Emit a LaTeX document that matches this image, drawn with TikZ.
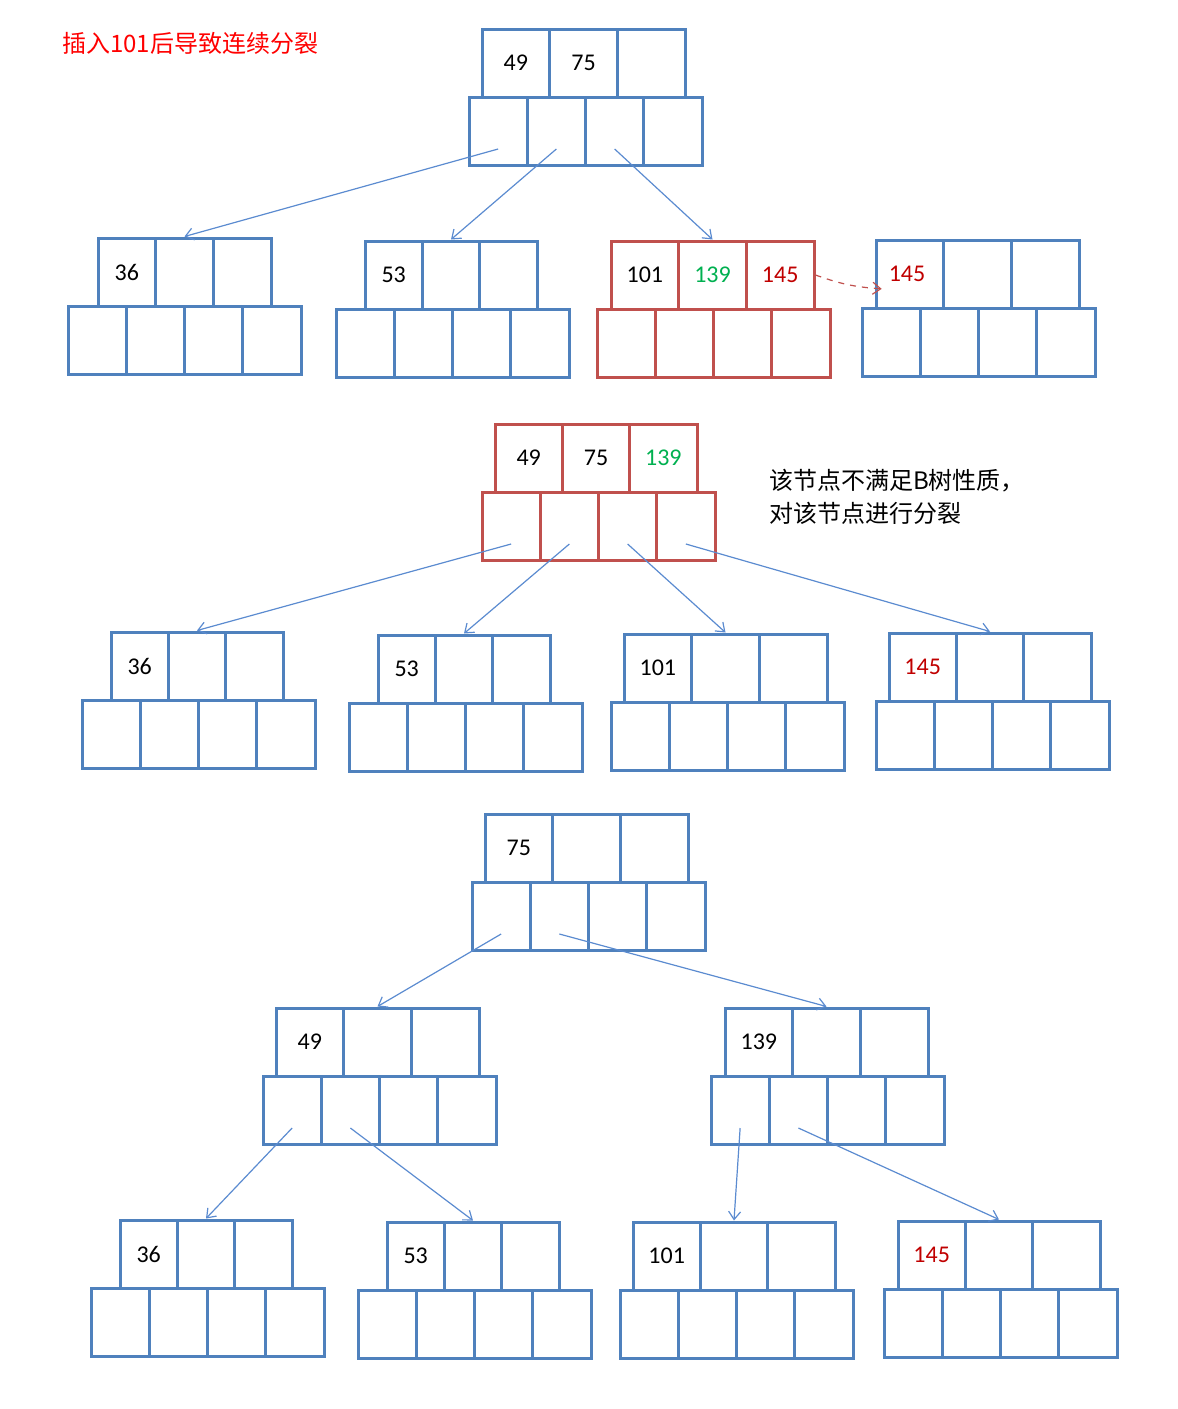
\documentclass[tikz,border=0pt]{standalone}
\usepackage{fontspec}
\setmainfont{Carlito}
\newfontfamily\cjk{Noto Sans CJK SC}
\usetikzlibrary{arrows.meta,calc}
\definecolor{boxblue}{RGB}{79,129,189}
\definecolor{boxred}{RGB}{192,80,77}
\definecolor{keygreen}{RGB}{0,176,80}
\definecolor{keyred}{RGB}{192,0,0}
\definecolor{titlered}{RGB}{255,0,0}
\definecolor{linkblue}{RGB}{91,139,208}

\tikzset{
  cell/.style={rectangle, inner sep=0pt, line width=1.5pt, font=\fontsize{12}{14}\selectfont},
  link/.style={draw=linkblue, line width=0.6pt, -{Straight Barb[length=4pt,width=6pt]}},
  from/.style={yshift=-9pt}
}

% node: name, top x, top width, bottom x, top y, colour, keys
\newcommand{\bnode}[9]{%
  \pgfmathsetmacro\tcw{#3/3}
  \foreach \i/\k in {1/#7,2/#8,3/#9} {
    \node[cell, draw=#6, minimum width=\tcw*0.5pt, minimum height=34pt]
      (#1-t\i) at ({#2+(\i-0.5)*\tcw},{#5+34}) {\k};
  }
  \foreach \i in {1,...,4} {
    \node[cell, draw=#6, minimum width=29.125pt, minimum height=34pt]
      (#1-b\i) at ({#4+(\i-0.5)*58.25},{#5+102}) {};
  }
}

\begin{document}
\begin{tikzpicture}[x=0.5pt, y=-0.5pt]
    \useasboundingbox (0,0) rectangle (1178,1409);

    % Title and note
    \node[anchor=west, text=titlered, font=\cjk\fontsize{12}{14}\selectfont] (title) at (55,43) {插入101后导致连续分裂};
    \node[anchor=north west, align=left, font=\cjk\fontsize{12}{16.5}\selectfont] (note) at (762,462) {该节点不满足B树性质，\\对该节点进行分裂};

    % Before split
    \bnode{rootA}{482}{203}{469}{29}{boxblue}{49}{75}{}
    \bnode{leafA}{98}{173}{68}{238}{boxblue}{36}{}{}
    \bnode{leafB}{365}{172}{336}{241}{boxblue}{53}{}{}
    \bnode{leafC}{611}{203}{597}{241}{boxred}{101}{\textcolor{keygreen}{139}}{\textcolor{keyred}{145}}
    \bnode{leafD}{876}{203}{862}{240}{boxblue}{}{}{}
    \node[font=\fontsize{12}{14}\selectfont, text=keyred] (moved) at (907,274) {145};

    \draw[link] ([from]rootA-b1.center) -- (leafA-t2.north);
    \draw[link] ([from]rootA-b2.center) -- (leafB-t2.north);
    \draw[link] ([from]rootA-b3.center) -- (leafC-t2.north);
    \draw[draw=boxred, line width=0.6pt, dashed, -{Straight Barb[length=4pt,width=6pt]}]
      (leafC-t3.east) to[bend right=8] (moved.south west);

    % Root overflows
    \bnode{rootB}{495}{202}{482}{424}{boxred}{49}{75}{\textcolor{keygreen}{139}}
    \bnode{leafE}{111}{172}{82}{632}{boxblue}{36}{}{}
    \bnode{leafF}{378}{172}{349}{635}{boxblue}{53}{}{}
    \bnode{leafG}{624}{203}{611}{634}{boxblue}{101}{}{}
    \bnode{leafH}{889}{202}{876}{633}{boxblue}{\textcolor{keyred}{145}}{}{}

    \draw[link] ([from]rootB-b1.center) -- (leafE-t2.north);
    \draw[link] ([from]rootB-b2.center) -- (leafF-t2.north);
    \draw[link] ([from]rootB-b3.center) -- (leafG-t2.north);
    \draw[link] ([from]rootB-b4.center) -- (leafH-t2.north);

    % After split
    \bnode{rootC}{485}{203}{472}{814}{boxblue}{75}{}{}
    \bnode{midA}{276}{203}{263}{1008}{boxblue}{49}{}{}
    \bnode{midB}{725}{203}{711}{1008}{boxblue}{139}{}{}
    \bnode{leafI}{120}{172}{91}{1220}{boxblue}{36}{}{}
    \bnode{leafJ}{387}{172}{358}{1222}{boxblue}{53}{}{}
    \bnode{leafK}{633}{202}{620}{1222}{boxblue}{101}{}{}
    \bnode{leafL}{898}{202}{884}{1221}{boxblue}{\textcolor{keyred}{145}}{}{}

    \draw[link] ([from]rootC-b1.center) -- (midA-t2.north);
    \draw[link] ([from]rootC-b2.center) -- (midB-t2.north);
    \draw[link] ([from]midA-b1.center) -- (leafI-t2.north);
    \draw[link] ([from]midA-b2.center) -- (leafJ-t2.north);
    \draw[link] ([from]midB-b1.center) -- (leafK-t2.north);
    \draw[link] ([from]midB-b2.center) -- (leafL-t2.north);
\end{tikzpicture}
\end{document}
